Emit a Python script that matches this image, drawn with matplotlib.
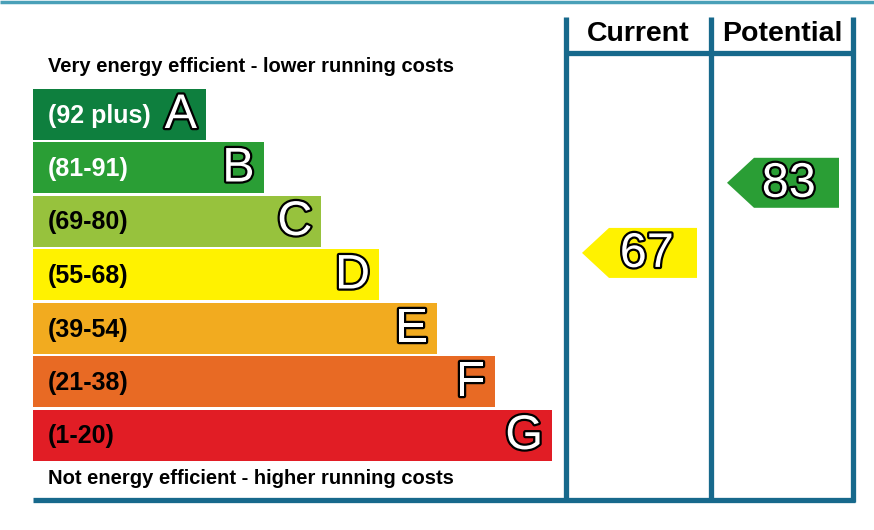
import matplotlib
matplotlib.use('Agg')
import matplotlib.pyplot as plt
import matplotlib.patheffects as pe
from matplotlib.patches import Polygon

# ---- data ----
bands = ['A', 'B', 'C', 'D', 'E', 'F', 'G']
ranges = ['(92 plus)', '(81-91)', '(69-80)', '(55-68)', '(39-54)', '(21-38)', '(1-20)']
band_lo = [92, 81, 69, 55, 39, 21, 1]
band_hi = [100, 91, 80, 68, 54, 38, 20]
colors = ['#0e7f3e', '#2a9e35', '#97c23d', '#fff200', '#f2ab1f', '#e86a24', '#e11d25']
range_text_colors = ['white', 'white', 'black', 'black', 'black', 'black', 'black']
headers = ['Current', 'Potential']
scores = [67, 83]
top_text = 'Very energy efficient - lower running costs'
bottom_text = 'Not energy efficient - higher running costs'

# ---- layout ----
W, H = 874, 530
FONT = 'Liberation Sans'
line_col = '#17698c'
fig = plt.figure(figsize=(W / 100, H / 100), dpi=100)
ax = fig.add_axes([0, 0, 1, 1])
ax.set_xlim(0, W)
ax.set_ylim(H, 0)
ax.axis('off')

left = 33
top0 = 88.5
pitch = 53.5
bar_h = 51
first_right = 206
step = 57.7

tops = [top0 + i * pitch for i in range(len(bands))]
centers = [t + bar_h / 2 for t in tops]
widths = [first_right + step * i - left for i in range(len(bands))]

ax.barh(centers, widths, left=left, height=bar_h, color=colors, edgecolor='none')

stroke = [pe.withStroke(linewidth=3.2, foreground='black')]
for i, b in enumerate(bands):
    ax.text(48, centers[i] + 1.5, ranges[i], ha='left', va='center', fontsize=18,
            fontweight='bold', family=FONT, color=range_text_colors[i])
    ax.text(left + widths[i] - 9, centers[i] + 1.5, b, ha='right', va='center',
            fontsize=35, family=FONT, color='white', path_effects=stroke)

ax.text(48, 66.5, top_text, ha='left', va='center', fontsize=14.5, fontweight='bold',
        family=FONT, color='black')
ax.text(48, 478.5, bottom_text, ha='left', va='center', fontsize=14.5, fontweight='bold',
        family=FONT, color='black')

# frame lines
ax.plot([0, W], [1.5, 1.5], color='#4aa0b8', lw=2.5, solid_capstyle='butt')
col_x = [566, 711, 853]
for x in col_x:
    ax.plot([x, x], [17, 502], color=line_col, lw=3.8, solid_capstyle='butt')
ax.plot([col_x[0] - 2, col_x[-1] + 2], [52.5, 52.5], color=line_col, lw=3.8, solid_capstyle='butt')
ax.plot([left, col_x[-1] + 2], [500, 500], color=line_col, lw=3.8, solid_capstyle='butt')

for j, h in enumerate(headers):
    ax.text((col_x[j] + col_x[j + 1]) / 2, 34, h, ha='center', va='center', fontsize=20.5,
            fontweight='bold', family=FONT, color='black')

# arrows
def band_index(v):
    for i in range(len(bands)):
        if band_lo[i] <= v <= band_hi[i]:
            return i
    return len(bands) - 1

for j, v in enumerate(scores):
    i = band_index(v)
    yc = tops[i] + (band_hi[i] - v) / (band_hi[i] - band_lo[i]) * bar_h
    x0 = col_x[j] + 16
    xn = col_x[j] + 43
    x1 = col_x[j + 1] - 14
    hh = 25
    poly = Polygon([[x0, yc], [xn, yc - hh], [x1, yc - hh], [x1, yc + hh], [xn, yc + hh]],
                   closed=True, facecolor=colors[i], edgecolor='none')
    ax.add_patch(poly)
    ax.text(x1 - 23, yc + 1.5, str(v), ha='right', va='center', fontsize=35, family=FONT,
            color='white', path_effects=stroke)

fig.savefig('out.png', dpi=100)
